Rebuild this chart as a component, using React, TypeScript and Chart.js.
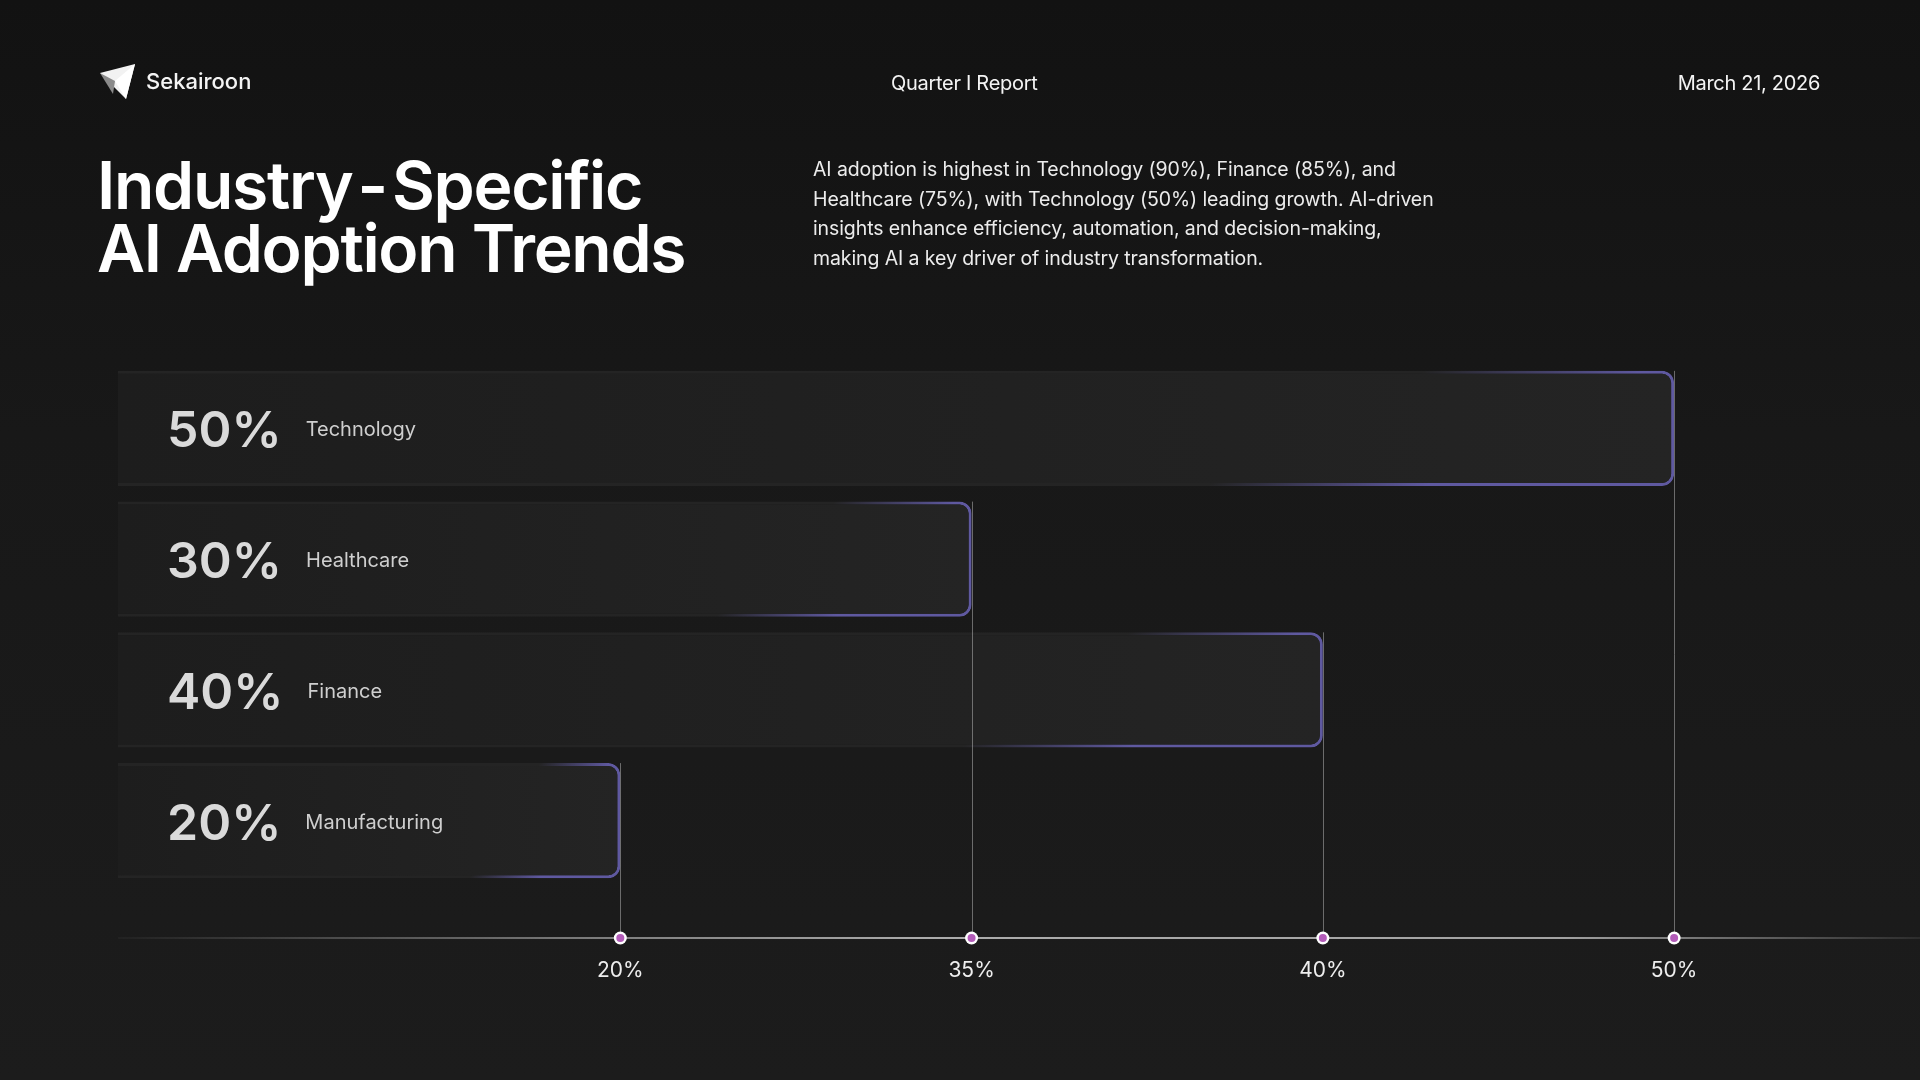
import React, { useEffect, useRef } from 'react';
import { Chart, registerables } from 'chart.js';

Chart.register(...registerables);

// ---- data ----
const categories = ['Technology', 'Healthcare', 'Finance', 'Manufacturing'];
const adoptionValues = [50, 30, 40, 20];
const axisTickValues = [20, 30, 40, 50];
const axisTickLabels = ['20%', '35%', '40%', '50%'];

const paragraphLines = [
  'AI adoption is highest in Technology (90%), Finance (85%), and',
  'Healthcare (75%), with Technology (50%) leading growth. AI-driven',
  'insights enhance efficiency, automation, and decision-making,',
  'making AI a key driver of industry transformation.',
];

const FONT = 'Inter, "Noto Sans", sans-serif';
const PURPLE = '#5f59a0';
const BAR_FILL_L = '#1d1d1d';
const BAR_FILL_R = '#242424';

function barGeom(ctx: any) {
  const chart = ctx.chart;
  const area = chart.chartArea;
  if (!area || ctx.type !== 'data') return null;
  const xs = chart.scales.x;
  const ys = chart.scales.y;
  const x0 = area.left;
  const x1 = xs.getPixelForValue(ctx.parsed ? ctx.parsed.x : ctx.raw);
  const cy = ys.getPixelForValue(ctx.dataIndex);
  const h = (ys.getPixelForValue(1) - ys.getPixelForValue(0)) * 0.88;
  return { x0, x1, top: cy - h / 2, h };
}

const decorPlugin = {
  id: 'decor',
  afterDatasetsDraw(chart: any) {
    const { ctx, chartArea } = chart;
    const xs = chart.scales.x;
    const ys = chart.scales.y;
    const meta = chart.getDatasetMeta(0);
    const axisY = chartArea.bottom + 52;

    ctx.save();
    // vertical guide lines from bar end to axis
    meta.data.forEach((bar: any) => {
      const p = bar.getProps(['x', 'y', 'height'], true);
      const top = p.y - p.height / 2;
      const lx = Math.round(p.x) + 0.5;
      ctx.strokeStyle = 'rgba(190,190,190,0.5)';
      ctx.lineWidth = 1;
      ctx.beginPath();
      ctx.moveTo(lx, top);
      ctx.lineTo(lx, axisY);
      ctx.stroke();
    });

    // axis line
    const g = ctx.createLinearGradient(chartArea.left, 0, chart.width, 0);
    g.addColorStop(0, 'rgba(255,255,255,0.04)');
    g.addColorStop(0.25, 'rgba(255,255,255,0.55)');
    g.addColorStop(0.45, 'rgba(255,255,255,0.85)');
    g.addColorStop(0.8, 'rgba(255,255,255,0.8)');
    g.addColorStop(1, 'rgba(255,255,255,0.1)');
    ctx.strokeStyle = g;
    ctx.lineWidth = 1.5;
    ctx.beginPath();
    ctx.moveTo(chartArea.left, axisY);
    ctx.lineTo(chart.width, axisY);
    ctx.stroke();

    // dots
    axisTickValues.forEach((v) => {
      const px = xs.getPixelForValue(v);
      ctx.fillStyle = '#ffffff';
      ctx.beginPath();
      ctx.arc(px, axisY, 6.5, 0, Math.PI * 2);
      ctx.fill();
      ctx.fillStyle = '#b35cb9';
      ctx.beginPath();
      ctx.arc(px, axisY, 4, 0, Math.PI * 2);
      ctx.fill();
    });

    // labels inside the bars
    categories.forEach((cat, i) => {
      const cy = ys.getPixelForValue(i);
      const nx = chartArea.left + 49;
      ctx.textAlign = 'left';
      ctx.textBaseline = 'alphabetic';
      ctx.fillStyle = '#dadada';
      ctx.font = `600 50px ${FONT}`;
      const txt = `${adoptionValues[i]}%`;
      ctx.fillText(txt, nx, cy + 19);
      const w = ctx.measureText(txt).width;
      ctx.fillStyle = '#cfcfcf';
      ctx.font = `400 20px ${FONT}`;
      ctx.fillText(cat, nx + w + 24, cy + 8);
    });
    ctx.restore();
  },
};

export default function App() {
  const ref = useRef<HTMLCanvasElement>(null);

  useEffect(() => {
    document.body.style.margin = '0';
    const chart = new Chart(ref.current as HTMLCanvasElement, {
      type: 'bar',
      data: {
        labels: categories,
        datasets: [
          {
            data: adoptionValues,
            backgroundColor: (c: any) => {
              const g = barGeom(c);
              if (!g) return BAR_FILL_L;
              const grad = c.chart.ctx.createLinearGradient(g.x0, 0, g.x1, 0);
              grad.addColorStop(0, BAR_FILL_L);
              grad.addColorStop(1, BAR_FILL_R);
              return grad;
            },
            borderColor: (c: any) => {
              const g = barGeom(c);
              if (!g) return PURPLE;
              const L = g.x1 - g.x0;
              const s = 0.14 * L;
              const a = s / g.h;
              const lam = s / (1 + a * a);
              const p0x = g.x0 + 0.84 * L;
              const p0y = g.top;
              const grad = c.chart.ctx.createLinearGradient(p0x, p0y, p0x + lam, p0y + lam * a);
              grad.addColorStop(0, BAR_FILL_R);
              grad.addColorStop(1, PURPLE);
              return grad;
            },
            borderWidth: { top: 3, right: 3, bottom: 3, left: 0 },
            borderSkipped: false,
            borderRadius: 12,
            barPercentage: 0.88,
            categoryPercentage: 1,
          },
        ],
      },
      options: {
        indexAxis: 'y',
        responsive: false,
        animation: false,
        layout: { padding: { left: 118, top: 363, right: 0, bottom: 0 } },
        plugins: { legend: { display: false }, tooltip: { enabled: false } },
        scales: {
          y: {
            type: 'category',
            display: false,
            grid: { display: false },
          },
          x: {
            type: 'linear',
            min: 5.7,
            max: 57,
            grid: { display: false, drawTicks: false },
            border: { display: false },
            afterFit: (s: any) => {
              s.height = 194;
            },
            afterBuildTicks: (s: any) => {
              s.ticks = axisTickValues.map((v) => ({ value: v }));
            },
            ticks: {
              padding: 72,
              color: '#eeeeee',
              font: { family: FONT, size: 21 },
              maxRotation: 0,
              autoSkip: false,
              callback: (_v: any, i: number) => axisTickLabels[i],
            },
          },
        },
      },
      plugins: [decorPlugin],
    });
    return () => chart.destroy();
  }, []);

  return (
    <div
      style={{
        position: 'fixed',
        left: 0,
        top: 0,
        width: 1920,
        height: 1080,
        overflow: 'hidden',
        background: 'linear-gradient(180deg, #121212 0%, #181818 40%, #1c1c1c 100%)',
        fontFamily: FONT,
        color: '#f4f4f4',
      }}
    >
      <canvas
        ref={ref}
        width={1920}
        height={1080}
        style={{ position: 'absolute', left: 0, top: 0, width: 1920, height: 1080 }}
      />
      <svg
        width="36"
        height="36"
        viewBox="0 0 36 36"
        style={{ position: 'absolute', left: 100, top: 64 }}
      >
        <polygon points="0,9 35,0 26,35" fill="#f2f2f2" />
        <polygon points="0,9 15,17 13,30" fill="#8a8a8a" />
        <polygon points="15,17 35,0 26,35" fill="#ffffff" />
      </svg>
      <div
        style={{
          position: 'absolute',
          left: 146,
          top: 70,
          fontSize: 22,
          lineHeight: '22px',
          fontWeight: 500,
          whiteSpace: 'nowrap',
        }}
      >
        Sekairoon
      </div>
      <div
        style={{
          position: 'absolute',
          left: 891,
          top: 73,
          fontSize: 20,
          lineHeight: '20px',
          whiteSpace: 'nowrap',
          letterSpacing: '-0.3px',
        }}
      >
        Quarter I Report
      </div>
      <div
        style={{
          position: 'absolute',
          right: 100,
          top: 73,
          fontSize: 20,
          lineHeight: '20px',
          whiteSpace: 'nowrap',
          letterSpacing: '-0.3px',
        }}
      >
        March 21, 2026
      </div>
      <div
        style={{
          position: 'absolute',
          left: 97,
          top: 154,
          fontSize: 66,
          lineHeight: '63px',
          fontWeight: 600,
          letterSpacing: '-1.3px',
          whiteSpace: 'nowrap',
          color: '#ffffff',
        }}
      >
        Industry<span style={{ margin: '0 5px' }}>-</span>Specific
        <br />
        AI Adoption Trends
      </div>
      <div
        style={{
          position: 'absolute',
          left: 813,
          top: 155,
          fontSize: 19.5,
          lineHeight: '29.7px',
          letterSpacing: '-0.1px',
          whiteSpace: 'nowrap',
          color: '#ececec',
        }}
      >
        {paragraphLines.map((l, i) => (
          <div key={i}>{l}</div>
        ))}
      </div>
    </div>
  );
}
